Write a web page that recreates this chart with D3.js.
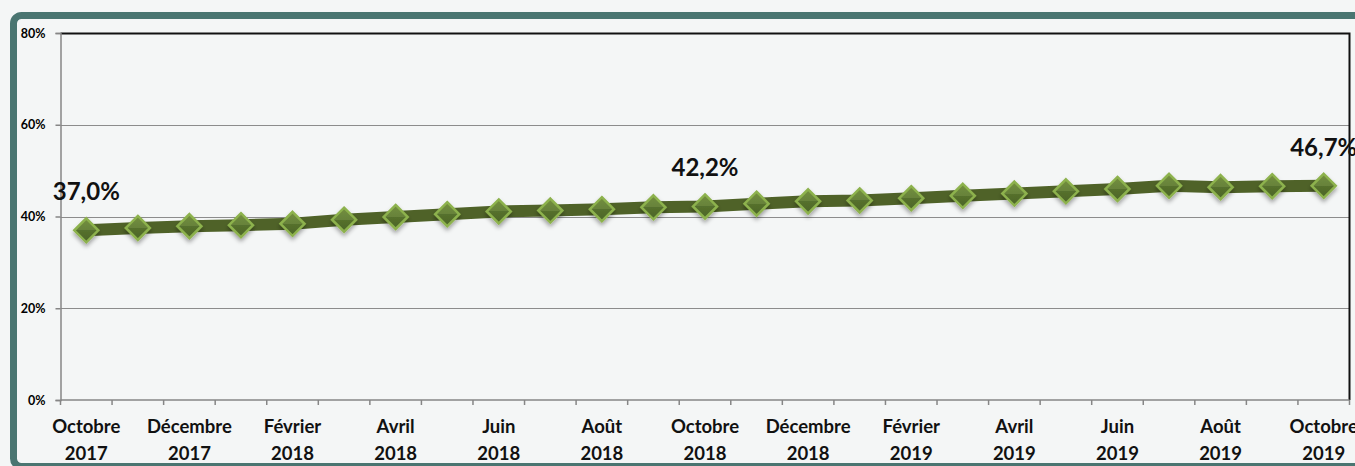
<!DOCTYPE html>
<html>
<head>
<meta charset="utf-8">
<script src="https://cdn.jsdelivr.net/npm/d3@7"></script>
<style>
  body { margin: 0; background: #f4f6f6; }
  svg { display: block; font-family: Lato, "Open Sans", sans-serif; }
</style>
</head>
<body>
<svg id="chart" width="1355" height="466"></svg>
<script>
// months from Oct 2017 to Oct 2019
var months = ["Octobre 2017","Novembre 2017","Décembre 2017","Janvier 2018","Février 2018","Mars 2018",
  "Avril 2018","Mai 2018","Juin 2018","Juillet 2018","Août 2018","Septembre 2018","Octobre 2018",
  "Novembre 2018","Décembre 2018","Janvier 2019","Février 2019","Mars 2019","Avril 2019","Mai 2019",
  "Juin 2019","Juillet 2019","Août 2019","Septembre 2019","Octobre 2019"];
var rates = [37.0, 37.5, 37.9, 38.1, 38.4, 39.3, 39.9, 40.5, 41.1, 41.3, 41.6, 42.0, 42.2,
  42.8, 43.3, 43.5, 44.0, 44.5, 45.0, 45.5, 46.0, 46.7, 46.4, 46.6, 46.7];
var yTicks = [0, 20, 40, 60, 80];
var shownLabels = [0, 12, 24]; // points with a value label

function drawChart(){
  var svg = d3.select("#chart");

  var pLeft = 60.5, pRight = 1349.5, pTop = 33, pBottom = 400;

  var x = d3.scaleBand().domain(d3.range(months.length)).range([pLeft, pRight]);
  var y = d3.scaleLinear().domain([0, 80]).range([pBottom, pTop]);
  var cx = function(i){ return x(i) + x.bandwidth() / 2; };

  var defs = svg.append("defs");
  var shadow = defs.append("filter").attr("id", "shadow")
    .attr("x", "-50%").attr("y", "-50%").attr("width", "200%").attr("height", "200%");
  shadow.append("feDropShadow").attr("dx", 0).attr("dy", 3).attr("stdDeviation", 2)
    .attr("flood-color", "#000").attr("flood-opacity", 0.35);
  var grad = defs.append("linearGradient").attr("id", "mk")
    .attr("x1", 0).attr("y1", 0).attr("x2", 0).attr("y2", 1);
  grad.append("stop").attr("offset", "0%").attr("stop-color", "#738f3f");
  grad.append("stop").attr("offset", "50%").attr("stop-color", "#67823a");
  grad.append("stop").attr("offset", "50%").attr("stop-color", "#55702d");
  grad.append("stop").attr("offset", "100%").attr("stop-color", "#4d6628");

  // outer frame
  svg.append("rect")
    .attr("x", 13.5).attr("y", 15.5).attr("width", 1420).attr("height", 451)
    .attr("rx", 8).attr("fill", "#f4f6f6")
    .attr("stroke", "#4a7571").attr("stroke-width", 7);

  // gridlines
  svg.append("g").selectAll("line")
    .data(yTicks.filter(function(d){ return d > 0 && d < 80; }))
    .enter().append("line")
    .attr("x1", pLeft).attr("x2", pRight)
    .attr("y1", function(d){ return Math.round(y(d)) + 0.5; })
    .attr("y2", function(d){ return Math.round(y(d)) + 0.5; })
    .attr("stroke", "#8c8c8c").attr("stroke-width", 1);

  // plot border top / right
  svg.append("path")
    .attr("d", "M" + pLeft + "," + (pTop + 0.5) + "H" + pRight + "V" + pBottom)
    .attr("fill", "none").attr("stroke", "#111").attr("stroke-width", 2);

  // y axis
  var yAxis = svg.append("g")
    .attr("transform", "translate(" + pLeft + ",0)")
    .call(d3.axisLeft(y).tickValues(yTicks).tickSize(5).tickFormat(function(d){ return d + "%"; }));
  yAxis.selectAll("path, line").attr("stroke", "#868686").attr("stroke-width", 1.5);
  yAxis.selectAll("text").attr("fill", "#000").attr("font-size", 12.5).attr("font-weight", "bold")
    .attr("font-family", "Lato, sans-serif").attr("x", -15);

  // x axis
  var xAxis = svg.append("g")
    .attr("transform", "translate(0," + pBottom + ")");
  xAxis.append("line").attr("x1", pLeft).attr("x2", pRight)
    .attr("stroke", "#868686").attr("stroke-width", 1.5);
  xAxis.selectAll("line.tk")
    .data(d3.range(months.length + 1))
    .enter().append("line").attr("class", "tk")
    .attr("x1", function(i){ return pLeft + i * x.step(); })
    .attr("x2", function(i){ return pLeft + i * x.step(); })
    .attr("y1", 0).attr("y2", 5)
    .attr("stroke", "#868686").attr("stroke-width", 1.5);

  var lbl = xAxis.selectAll("text")
    .data(d3.range(0, months.length, 2))
    .enter().append("text")
    .attr("text-anchor", "middle")
    .attr("font-size", 18.5).attr("font-weight", "bold").attr("fill", "#111");
  lbl.append("tspan")
    .attr("x", cx).attr("y", 33)
    .text(function(i){ return months[i].split(" ")[0]; });
  lbl.append("tspan")
    .attr("x", cx).attr("y", 60)
    .text(function(i){ return months[i].split(" ")[1]; });

  // line
  var line = d3.line()
    .x(function(d, i){ return cx(i); })
    .y(function(d){ return y(d); });

  svg.append("path")
    .datum(rates)
    .attr("d", line)
    .attr("fill", "none")
    .attr("stroke", "#4f6228")
    .attr("stroke-width", 12)
    .attr("stroke-linejoin", "round");

  // markers
  var r = 12;
  svg.append("g").selectAll("path")
    .data(rates)
    .enter().append("path")
    .attr("transform", function(d, i){ return "translate(" + cx(i) + "," + y(d) + ")"; })
    .attr("d", "M0," + (-r) + "L" + r + ",0L0," + r + "L" + (-r) + ",0Z")
    .attr("fill", "url(#mk)")
    .attr("stroke", "#8db24d")
    .attr("stroke-width", 2.5)
    .attr("filter", "url(#shadow)");

  // value labels
  svg.append("g").selectAll("text")
    .data(shownLabels)
    .enter().append("text")
    .attr("x", cx)
    .attr("y", function(i){ return y(rates[i]) - 30; })
    .attr("text-anchor", "middle")
    .attr("font-size", 24).attr("font-weight", "bold").attr("fill", "#111")
    .text(function(i){ return rates[i].toFixed(1).replace(".", ",") + "%"; });
}

drawChart();
</script>
</body>
</html>
